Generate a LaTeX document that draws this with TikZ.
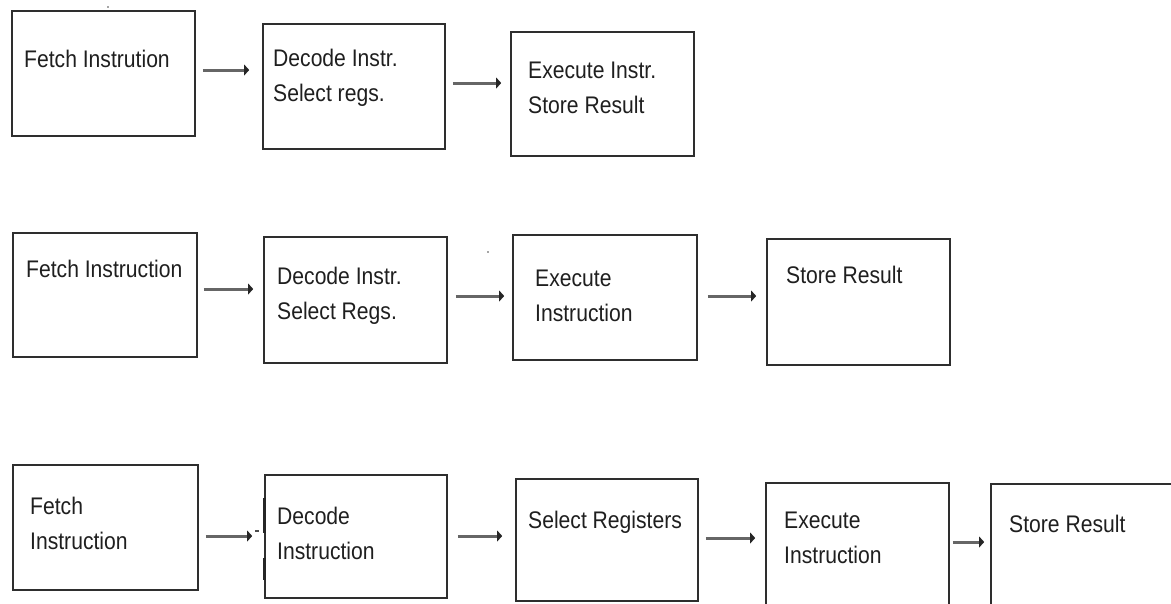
\documentclass[tikz,border=0pt]{standalone}
\usepackage{fontspec}
\setmainfont{Liberation Sans}[FakeStretch=0.88]
\usetikzlibrary{arrows.meta,fit}

\tikzset{
  stagebox/.style={draw=black!82, line width=1.6pt, inner sep=0pt, rectangle},
  % labels are placed by the baseline of their last line
  lbl/.style={anchor=base west, inner sep=0pt, text=black!88,
              font=\fontsize{24}{35}\selectfont, align=left},
  flow/.style={draw=black!60, line width=3pt,
               -{Triangle[length=5pt,width=11pt,fill=black!85,line width=0pt]}},
  speck/.style={fill=black!70, draw=none}
}

\begin{document}
\begin{tikzpicture}[x=1pt,y=-1pt]
  \useasboundingbox (0,0) rectangle (1171,603);
  \clip (0,0) rectangle (1171,603);
  \fill[white] (0,0) rectangle (1171,603);

  % ---- three-stage pipeline ----
  \node[stagebox, fit={(12,11) (195,136)}]  (a1) {};
  \node[stagebox, fit={(263,24) (445,149)}] (a2) {};
  \node[stagebox, fit={(511,32) (694,156)}] (a3) {};

  \node[lbl] (a1t) at (24,67)   {Fetch Instrution};
  \node[lbl] (a2t) at (273,101) {Decode Instr.\\Select regs.};
  \node[lbl] (a3t) at (528,113) {Execute Instr.\\Store Result};

  \draw[flow, shorten <=7pt, shorten >=13pt] (a1.east |- 0,70) -- (a2.west |- 0,70);
  \draw[flow, shorten <=7pt, shorten >=9pt]  (a2.east |- 0,83) -- (a3.west |- 0,83);

  \fill[speck] (108,7) circle (0.8);

  % ---- four-stage pipeline ----
  \node[stagebox, fit={(13,233) (197,357)}]  (b1) {};
  \node[stagebox, fit={(264,237) (447,363)}] (b2) {};
  \node[stagebox, fit={(513,235) (697,360)}] (b3) {};
  \node[stagebox, fit={(767,239) (950,365)}] (b4) {};

  \node[lbl] (b1t) at (26,277)  {Fetch Instruction};
  \node[lbl] (b2t) at (277,319) {Decode Instr.\\Select Regs.};
  \node[lbl] (b3t) at (535,321) {Execute\\Instruction};
  \node[lbl] (b4t) at (786,283) {Store Result};

  \draw[flow, shorten <=6pt, shorten >=10pt] (b1.east |- 0,289) -- (b2.west |- 0,289);
  \draw[flow, shorten <=8pt, shorten >=8pt]  (b2.east |- 0,296) -- (b3.west |- 0,296);
  \draw[flow, shorten <=10pt, shorten >=10pt] (b3.east |- 0,296) -- (b4.west |- 0,296);

  \fill[speck] (488,252) circle (0.8);

  % ---- five-stage pipeline ----
  \node[stagebox, fit={(13,465) (198,590)}]   (c1) {};
  \node[stagebox, fit={(265,475) (447,598)}]  (c2) {};
  \node[stagebox, fit={(516,479) (698,601)}]  (c3) {};
  \node[stagebox, fit={(766,483) (949,640)}]  (c4) {};
  \node[stagebox, fit={(991,484) (1220,640)}] (c5) {};

  \node[lbl] (c1t) at (30,549)  {Fetch\\Instruction};
  \node[lbl] (c2t) at (277,559) {Decode\\Instruction};
  \node[lbl] (c3t) at (528,528) {Select Registers};
  \node[lbl] (c4t) at (784,563) {Execute\\Instruction};
  \node[lbl] (c5t) at (1009,532) {Store Result};

  \draw[flow, shorten <=7pt, shorten >=12pt] (c1.east |- 0,536) -- (c2.west |- 0,536);
  \draw[flow, shorten <=10pt, shorten >=13pt] (c2.east |- 0,536) -- (c3.west |- 0,536);
  \draw[flow, shorten <=7pt, shorten >=10pt] (c3.east |- 0,538) -- (c4.west |- 0,538);
  \draw[flow, shorten <=3pt, shorten >=6pt]  (c4.east |- 0,542) -- (c5.west |- 0,542);

  % heavier strokes on the left edge of the decode box
  \draw[black!85, line width=3pt] (c2.west |- 0,498) -- (c2.west |- 0,533);
  \draw[black!85, line width=3pt] (c2.west |- 0,558) -- (c2.west |- 0,580);
  \draw[black!70, line width=1.4pt] (255,531) -- (258.5,531);
\end{tikzpicture}
\end{document}
